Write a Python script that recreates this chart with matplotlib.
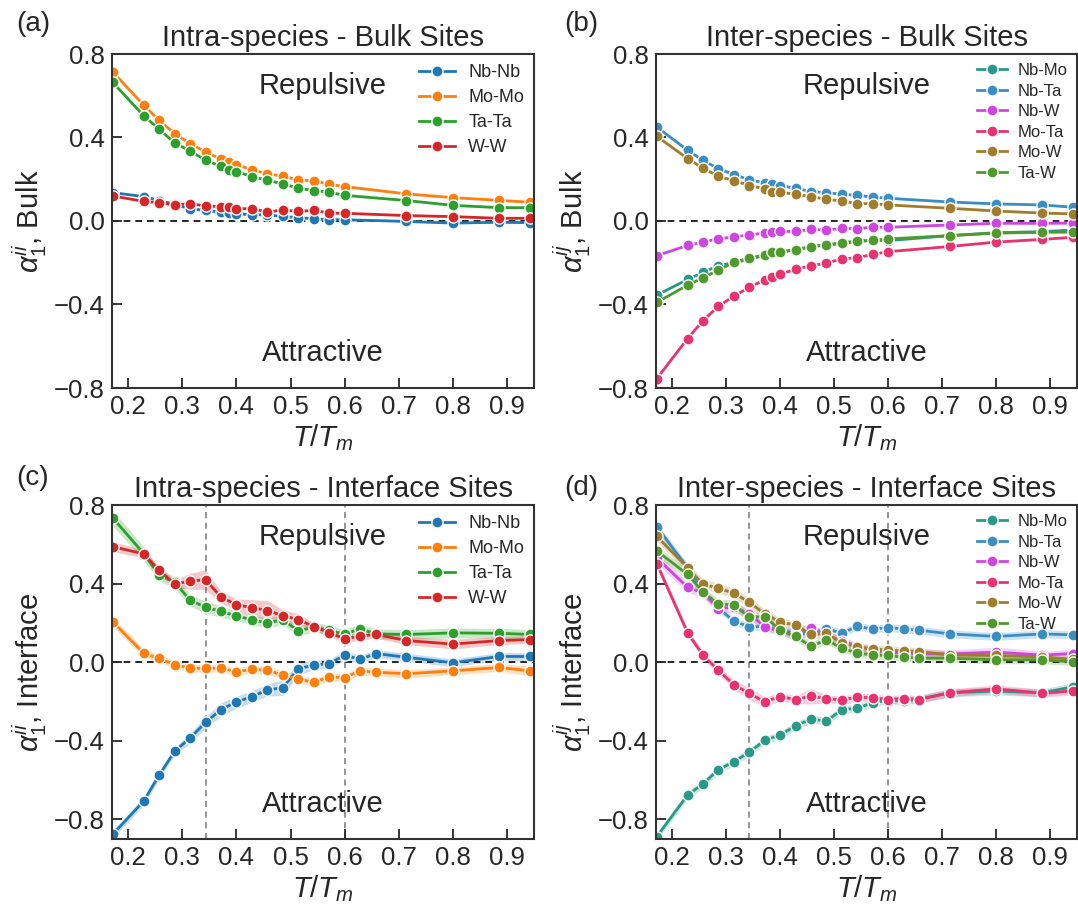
import numpy as np
import matplotlib
matplotlib.use("Agg")
import matplotlib.pyplot as plt

plt.rcParams['font.family'] = ['Liberation Sans', 'DejaVu Sans']
plt.rcParams['mathtext.fontset'] = 'custom'
plt.rcParams['mathtext.rm'] = 'Liberation Sans'
plt.rcParams['mathtext.it'] = 'Liberation Sans:italic'
plt.rcParams['mathtext.bf'] = 'Liberation Sans:bold'
plt.rcParams['axes.unicode_minus'] = True

TM = 3500.0
# Temperatures (K) sampled for bulk and interface sites
temps_bulk = [600, 800, 900, 1000, 1100, 1200, 1300, 1350, 1400, 1500, 1600,
              1700, 1800, 1900, 2000, 2100, 2500, 2800, 3100, 3300]
temps_intf = [600, 800, 900, 1000, 1100, 1200, 1300, 1400, 1500, 1600, 1700,
              1800, 1900, 2000, 2100, 2200, 2300, 2500, 2800, 3100, 3300]

# (a) intra-species, bulk
bulk_NbNb = [0.136, 0.117, 0.098, 0.080, 0.058, 0.051, 0.042, 0.037, 0.035, 0.030,
             0.029, 0.022, 0.016, 0.011, 0.006, 0.006, -0.002, -0.010, -0.006, -0.008]
bulk_MoMo = [0.714, 0.555, 0.482, 0.419, 0.371, 0.331, 0.296, 0.283, 0.270, 0.245,
             0.227, 0.214, 0.197, 0.192, 0.176, 0.165, 0.130, 0.112, 0.099, 0.090]
bulk_TaTa = [0.664, 0.504, 0.440, 0.374, 0.336, 0.291, 0.262, 0.245, 0.237, 0.213,
             0.195, 0.178, 0.157, 0.146, 0.138, 0.123, 0.098, 0.075, 0.064, 0.064]
bulk_WW = [0.120, 0.094, 0.088, 0.077, 0.083, 0.072, 0.069, 0.069, 0.059, 0.059,
           0.043, 0.053, 0.046, 0.051, 0.038, 0.037, 0.026, 0.021, 0.013, 0.013]

# (b) inter-species, bulk
bulk_NbMo = [-0.355, -0.280, -0.246, -0.214, -0.200, -0.184, -0.163, -0.152, -0.149, -0.136,
             -0.123, -0.114, -0.109, -0.098, -0.093, -0.094, -0.070, -0.056, -0.051, -0.043]
bulk_NbTa = [0.450, 0.339, 0.290, 0.251, 0.222, 0.198, 0.182, 0.176, 0.170, 0.157,
             0.141, 0.136, 0.128, 0.123, 0.115, 0.109, 0.091, 0.082, 0.077, 0.066]
bulk_NbW = [-0.166, -0.117, -0.101, -0.085, -0.077, -0.066, -0.058, -0.054, -0.050, -0.050,
            -0.040, -0.043, -0.035, -0.037, -0.029, -0.030, -0.019, -0.011, -0.011, -0.010]
bulk_MoTa = [-0.755, -0.563, -0.477, -0.408, -0.360, -0.317, -0.282, -0.267, -0.254, -0.232,
             -0.214, -0.202, -0.181, -0.176, -0.160, -0.147, -0.122, -0.101, -0.088, -0.078]
bulk_MoW = [0.406, 0.299, 0.253, 0.214, 0.194, 0.170, 0.154, 0.141, 0.138, 0.128,
            0.117, 0.104, 0.096, 0.083, 0.083, 0.077, 0.061, 0.048, 0.038, 0.034]
bulk_TaW = [-0.390, -0.307, -0.272, -0.235, -0.197, -0.178, -0.162, -0.150, -0.149, -0.139,
            -0.123, -0.114, -0.104, -0.096, -0.093, -0.086, -0.070, -0.058, -0.054, -0.053]

# (c) intra-species, interface (mean and band half-width)
intf_NbNb = [-0.876, -0.707, -0.575, -0.454, -0.386, -0.307, -0.241, -0.203, -0.175, -0.142, -0.129,
             -0.034, -0.014, -0.008, 0.036, 0.014, 0.044, 0.025, -0.003, 0.029, 0.029]
intf_MoMo = [0.205, 0.046, 0.019, -0.012, -0.031, -0.031, -0.031, -0.049, -0.036, -0.041, -0.066,
             -0.085, -0.103, -0.075, -0.078, -0.044, -0.051, -0.059, -0.044, -0.027, -0.044]
intf_TaTa = [0.734, 0.553, 0.442, 0.408, 0.315, 0.280, 0.258, 0.236, 0.215, 0.200, 0.215,
             0.161, 0.176, 0.164, 0.141, 0.171, 0.144, 0.141, 0.149, 0.147, 0.141]
intf_WW = [0.588, 0.551, 0.468, 0.398, 0.412, 0.420, 0.332, 0.292, 0.278, 0.263, 0.237,
           0.217, 0.181, 0.151, 0.119, 0.132, 0.142, 0.110, 0.092, 0.110, 0.115]
err_NbNb = [0.02, 0.02, 0.02, 0.02, 0.025, 0.03, 0.035, 0.03, 0.03, 0.03, 0.04,
            0.03, 0.025, 0.02, 0.025, 0.02, 0.02, 0.02, 0.02, 0.02, 0.02]
err_MoMo = [0.025, 0.02, 0.02, 0.02, 0.02, 0.02, 0.02, 0.02, 0.02, 0.02, 0.02,
            0.02, 0.02, 0.02, 0.02, 0.02, 0.02, 0.02, 0.02, 0.02, 0.025]
err_TaTa = [0.04, 0.035, 0.03, 0.03, 0.03, 0.03, 0.03, 0.025, 0.025, 0.025, 0.025,
            0.025, 0.025, 0.025, 0.025, 0.025, 0.025, 0.025, 0.025, 0.025, 0.025]
err_WW = [0.025, 0.02, 0.02, 0.02, 0.04, 0.05, 0.03, 0.03, 0.04, 0.05, 0.03,
          0.03, 0.02, 0.02, 0.02, 0.02, 0.02, 0.02, 0.025, 0.02, 0.02]

# (d) inter-species, interface (mean and band half-width)
intf_NbMo = [-0.888, -0.676, -0.619, -0.547, -0.507, -0.458, -0.398, -0.371, -0.324, -0.290, -0.300,
             -0.242, -0.234, -0.207, -0.193, -0.197, -0.188, -0.156, -0.147, -0.156, -0.125]
intf_NbTa = [0.690, 0.480, 0.361, 0.276, 0.208, 0.181, 0.181, 0.163, 0.147, 0.146, 0.171,
             0.147, 0.183, 0.168, 0.176, 0.169, 0.163, 0.144, 0.131, 0.144, 0.139]
intf_NbW = [0.531, 0.381, 0.353, 0.273, 0.280, 0.246, 0.181, 0.158, 0.144, 0.175, 0.136,
            0.110, 0.081, 0.061, 0.051, 0.047, 0.044, 0.042, 0.051, 0.036, 0.044]
intf_MoTa = [0.502, 0.149, 0.036, -0.042, -0.114, -0.159, -0.202, -0.175, -0.190, -0.173, -0.186,
             -0.192, -0.178, -0.181, -0.190, -0.185, -0.190, -0.156, -0.136, -0.158, -0.146]
intf_MoW = [0.641, 0.480, 0.397, 0.376, 0.351, 0.305, 0.246, 0.205, 0.188, 0.142, 0.146,
            0.098, 0.078, 0.068, 0.061, 0.058, 0.054, 0.037, 0.034, 0.027, 0.014]
intf_TaW = [0.566, 0.447, 0.356, 0.295, 0.292, 0.229, 0.232, 0.164, 0.131, 0.081, 0.114,
            0.071, 0.047, 0.036, 0.034, 0.025, 0.020, 0.020, 0.012, 0.012, 0.002]
err_NbMo = [0.02, 0.02, 0.02, 0.02, 0.02, 0.02, 0.02, 0.02, 0.02, 0.02, 0.02,
            0.02, 0.02, 0.02, 0.02, 0.02, 0.02, 0.02, 0.02, 0.02, 0.02]
err_NbTa = [0.02, 0.02, 0.02, 0.02, 0.02, 0.02, 0.02, 0.02, 0.02, 0.02, 0.02,
            0.02, 0.02, 0.02, 0.02, 0.02, 0.02, 0.02, 0.02, 0.02, 0.02]
err_NbW = [0.03, 0.025, 0.025, 0.025, 0.025, 0.025, 0.025, 0.02, 0.035, 0.02, 0.02,
           0.02, 0.02, 0.02, 0.02, 0.02, 0.02, 0.02, 0.025, 0.02, 0.02]
err_MoTa = [0.02, 0.02, 0.02, 0.02, 0.025, 0.03, 0.025, 0.02, 0.02, 0.04, 0.02,
            0.02, 0.02, 0.02, 0.02, 0.02, 0.02, 0.02, 0.02, 0.02, 0.02]
err_MoW = [0.025, 0.025, 0.025, 0.025, 0.025, 0.025, 0.025, 0.02, 0.02, 0.025, 0.02,
           0.02, 0.02, 0.02, 0.02, 0.02, 0.02, 0.02, 0.02, 0.02, 0.02]
err_TaW = [0.025, 0.025, 0.025, 0.025, 0.025, 0.025, 0.025, 0.02, 0.02, 0.025, 0.02,
           0.02, 0.02, 0.02, 0.02, 0.02, 0.02, 0.02, 0.02, 0.02, 0.02]

intra_labels = ['Nb-Nb', 'Mo-Mo', 'Ta-Ta', 'W-W']
inter_labels = ['Nb-Mo', 'Nb-Ta', 'Nb-W', 'Mo-Ta', 'Mo-W', 'Ta-W']
intra_colors = ['#1f77b4', '#ff7f0e', '#2ca02c', '#d62728']
inter_colors = ['#2a9a88', '#3b8ec4', '#cf45e0', '#e8336f', '#a07d2c', '#4f9a2c']

xb = np.array(temps_bulk) / TM
xi = np.array(temps_intf) / TM

W, H = 1078, 905
fig = plt.figure(figsize=(W / 100, H / 100), dpi=100)


def px_axes(l, t, r, b):
    return fig.add_axes([l / W, 1 - b / H, (r - l) / W, (b - t) / H])


ax_a = px_axes(112, 54, 534, 388)
ax_b = px_axes(656, 54, 1077, 388)
ax_c = px_axes(112, 505, 534, 839)
ax_d = px_axes(656, 505, 1077, 839)

dark = '#262626'


def draw(ax, x, series, errs, labels, colors, band_alpha, leg_size, leg_space,
         handle_len, text_pad):
    for y, e, lab, c in zip(series, errs, labels, colors):
        y = np.asarray(y)
        e = np.asarray(e)
        ax.fill_between(x, y - e, y + e, color=c, alpha=band_alpha, lw=0)
        ax.plot(x, y, '-o', color=c, lw=2, ms=8, mec='white', mew=1.0,
                label=lab, clip_on=True)
    ax.axhline(0, color='black', ls='--', lw=1.2, dashes=(4, 3), zorder=1)
    ax.set_xlim(0.17, 0.95)
    ax.set_xticks([0.2, 0.3, 0.4, 0.5, 0.6, 0.7, 0.8, 0.9])
    ax.set_xticklabels(['0.2', '0.3', '0.4', '0.5', '0.6', '0.7', '0.8', '0.9'])
    ax.set_yticks([-0.8, -0.4, 0.0, 0.4, 0.8])
    ax.set_yticklabels(['\u22120.8', '\u22120.4', '0.0', '0.4', '0.8'])
    ax.tick_params(direction='in', length=7, width=1.3, labelsize=18.5,
                   colors=dark, pad=5)
    for s in ax.spines.values():
        s.set_color('#333333')
        s.set_linewidth(1.5)
    ax.set_xlabel('$T/T_m$', fontsize=21, color=dark, labelpad=2)
    ax.text(0.5, 0.905, 'Repulsive', transform=ax.transAxes, ha='center',
            va='center', fontsize=21, color=dark)
    ax.text(0.5, 0.105, 'Attractive', transform=ax.transAxes, ha='center',
            va='center', fontsize=21, color=dark)
    leg = ax.legend(loc='upper right', frameon=False, fontsize=leg_size,
                    labelspacing=leg_space, handlelength=handle_len,
                    handletextpad=text_pad, borderaxespad=0.15)
    for t in leg.get_texts():
        t.set_color(dark)


bulk_err_small = [[0.004] * len(xb)] * 6

draw(ax_a, xb, [bulk_NbNb, bulk_MoMo, bulk_TaTa, bulk_WW], bulk_err_small[:4],
     intra_labels, intra_colors, 0.2, 13, 0.45, 2.0, 0.75)
ax_a.set_ylim(-0.8, 0.8)
ax_a.set_title('Intra-species - Bulk Sites', fontsize=21, color=dark, pad=6)
ax_a.set_ylabel('$\\alpha_1^{ii}$, Bulk', fontsize=21, color=dark, labelpad=4)

draw(ax_b, xb, [bulk_NbMo, bulk_NbTa, bulk_NbW, bulk_MoTa, bulk_MoW, bulk_TaW],
     bulk_err_small, inter_labels, inter_colors, 0.2, 12, 0.33, 1.8, 0.65)
ax_b.set_ylim(-0.8, 0.8)
ax_b.set_title('Inter-species - Bulk Sites', fontsize=21, color=dark, pad=6)
ax_b.set_ylabel('$\\alpha_1^{ij}$, Bulk', fontsize=21, color=dark, labelpad=4)

for ax in (ax_c, ax_d):
    for xv in (1200 / TM, 2100 / TM):
        ax.axvline(xv, color='#777777', ls='--', lw=1.1, dashes=(4, 3), zorder=1)

draw(ax_c, xi, [intf_NbNb, intf_MoMo, intf_TaTa, intf_WW],
     [err_NbNb, err_MoMo, err_TaTa, err_WW], intra_labels, intra_colors, 0.25,
     13, 0.45, 2.0, 0.75)
ax_c.set_ylim(-0.9, 0.8)
ax_c.set_title('Intra-species - Interface Sites', fontsize=21, color=dark, pad=6)
ax_c.set_ylabel('$\\alpha_1^{ii}$, Interface', fontsize=21, color=dark, labelpad=4)

draw(ax_d, xi, [intf_NbMo, intf_NbTa, intf_NbW, intf_MoTa, intf_MoW, intf_TaW],
     [err_NbMo, err_NbTa, err_NbW, err_MoTa, err_MoW, err_TaW],
     inter_labels, inter_colors, 0.25, 12, 0.33, 1.8, 0.65)
ax_d.set_ylim(-0.9, 0.8)
ax_d.set_title('Inter-species - Interface Sites', fontsize=21, color=dark, pad=6)
ax_d.set_ylabel('$\\alpha_1^{ij}$, Interface', fontsize=21, color=dark, labelpad=4)

for lab, xp, yp in [('(a)', 16, 24), ('(b)', 564, 24), ('(c)', 16, 478), ('(d)', 564, 488)]:
    fig.text(xp / W, 1 - yp / H, lab, fontsize=20, color=dark, ha='left', va='center')

fig.savefig('out.png', dpi=100)
